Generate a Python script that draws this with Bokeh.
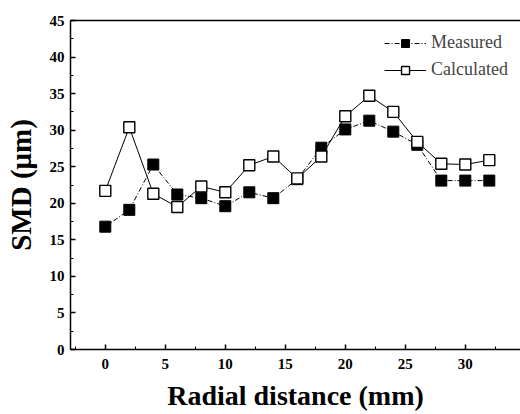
from bokeh.plotting import figure
from bokeh.models import LinearAxis, Range1d, Legend, LegendItem, SingleIntervalTicker, FixedTicker
from bokeh.embed import file_html
from bokeh.resources import INLINE

radial = [0, 2, 4, 6, 8, 10, 12, 14, 16, 18, 20, 22, 24, 26, 28, 30, 32]
measured = [16.8, 19.1, 25.3, 21.2, 20.7, 19.6, 21.5, 20.7, 23.3, 27.6, 30.1, 31.3, 29.8, 28.0, 23.1, 23.1, 23.1]
calculated = [21.7, 30.4, 21.3, 19.5, 22.3, 21.5, 25.2, 26.4, 23.4, 26.4, 31.9, 34.7, 32.5, 28.4, 25.4, 25.3, 25.9]

FONT = "Liberation Serif"

p = figure(width=520, height=414, output_backend="svg", toolbar_location=None,
           x_range=Range1d(-2.9, 34.6), y_range=Range1d(0, 45),
           min_border_left=70, min_border_right=0, min_border_top=20, min_border_bottom=65)
p.outline_line_color = None
p.grid.grid_line_color = None
p.background_fill_color = "white"

r_m_line = p.line(radial, measured, line_color="black", line_width=1, line_dash="5 2 1 2")
r_m = p.scatter(radial, measured, marker="square", size=11, fill_color="black", line_color="black")
r_c_line = p.line(radial, calculated, line_color="black", line_width=1)
r_c = p.scatter(radial, calculated, marker="square", size=11, fill_color="white", line_color="black", line_width=1.4)

for ax in (p.xaxis[0], p.yaxis[0]):
    ax.axis_line_width = 1.5
    ax.major_tick_in = 5
    ax.major_tick_out = 0
    ax.minor_tick_in = 3
    ax.minor_tick_out = 0
    ax.major_tick_line_width = 1.5
    ax.major_label_text_font = FONT
    ax.major_label_text_font_style = "bold"
    ax.major_label_text_font_size = "15px"
    ax.axis_label_text_font = FONT
    ax.axis_label_text_font_style = "bold"
    ax.axis_label_text_color = "black"
    ax.major_label_text_color = "black"

p.xaxis[0].ticker = SingleIntervalTicker(interval=5, num_minor_ticks=2)
p.yaxis[0].ticker = SingleIntervalTicker(interval=5, num_minor_ticks=2)
p.xaxis[0].axis_label = "Radial distance (mm)"
p.yaxis[0].axis_label = "SMD (\u03bcm)"
p.xaxis[0].axis_label_text_font_size = "28px"
p.yaxis[0].axis_label_text_font_size = "29px"
p.xaxis[0].major_label_standoff = 9
p.xaxis[0].axis_label_standoff = 8
p.yaxis[0].major_label_standoff = 6
p.yaxis[0].axis_label_standoff = 10

top = LinearAxis(ticker=FixedTicker(ticks=[]), major_tick_line_color=None,
                 minor_tick_line_color=None, axis_line_width=1.5)
p.add_layout(top, "above")

legend = Legend(items=[LegendItem(label="Measured", renderers=[r_m_line, r_m]),
                       LegendItem(label="Calculated", renderers=[r_c_line, r_c])],
                location="top_right")
legend.border_line_color = None
legend.background_fill_alpha = 0
legend.label_text_font = FONT
legend.label_text_font_size = "18px"
legend.glyph_width = 42
legend.spacing = 6
legend.padding = 4
legend.margin = 12
p.add_layout(legend)

open("out.html", "w").write(file_html(p, INLINE))
